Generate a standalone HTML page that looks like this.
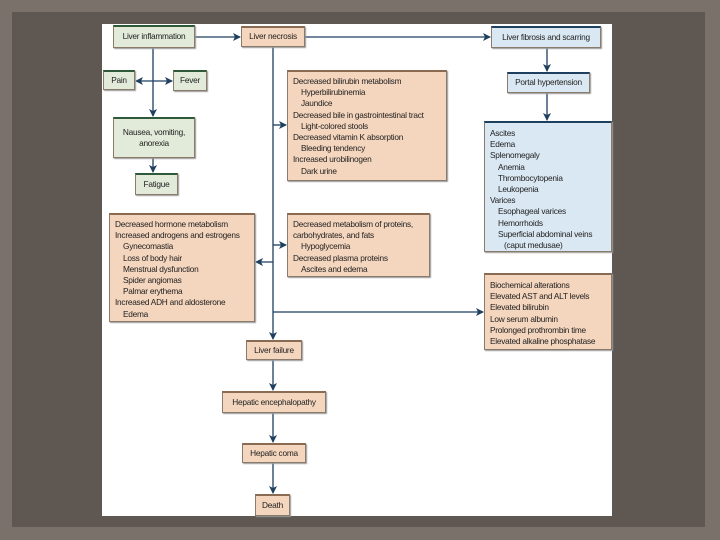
<!DOCTYPE html><html><head><style>
body{margin:0;width:720px;height:540px;background:#7b716b;position:relative;overflow:hidden;font-family:"Liberation Sans",sans-serif;}
#frame{position:absolute;left:12px;top:12px;width:693px;height:515px;background:#5f5752;}
#panel{position:absolute;left:102px;top:24px;width:510px;height:492px;background:#fff;}
.b{position:absolute;box-sizing:border-box;font-size:8.3px;line-height:11.2px;color:#222;border:1px solid #8a7a6a;box-shadow:1px 1px 1px #999;white-space:nowrap;letter-spacing:-0.25px;overflow:hidden;}
.p{background:#f4d5bd;border-top:2px solid #8a6a50;}
.g{background:#e2ebda;border-top:2px solid #2e5a3a;}
.u{background:#dae8f3;border-top:2px solid #1f3f5f;}
.c{display:flex;align-items:center;justify-content:center;text-align:center;}
.l{padding:4px 5px;}
.i{padding-left:8px}.ii{padding-left:14px}
</style></head><body>
<div id="frame"></div><div id="panel"></div>
<svg width="720" height="540" style="position:absolute;left:0;top:0">
<defs><marker id="a" markerWidth="8" markerHeight="8" refX="7" refY="4" orient="auto" markerUnits="userSpaceOnUse"><path d="M0,0 L8,4 L0,8 L2,4z" fill="#1f3f5f"/></marker></defs>
<g stroke="#1f3f5f" stroke-width="1.3" fill="none">
<line x1="195" y1="37" x2="240" y2="37" marker-end="url(#a)"/>
<line x1="305" y1="37" x2="490" y2="37" marker-end="url(#a)"/>
<line x1="153" y1="48" x2="153" y2="116" marker-end="url(#a)"/>
<line x1="153" y1="81" x2="136" y2="81" marker-end="url(#a)"/>
<line x1="153" y1="81" x2="172" y2="81" marker-end="url(#a)"/>
<line x1="153" y1="158" x2="153" y2="172" marker-end="url(#a)"/>
<line x1="547" y1="48" x2="547" y2="71" marker-end="url(#a)"/>
<line x1="547" y1="93" x2="547" y2="120" marker-end="url(#a)"/>
<line x1="273" y1="47" x2="273" y2="339" marker-end="url(#a)"/>
<line x1="273" y1="125" x2="286" y2="125" marker-end="url(#a)"/>
<line x1="273" y1="245" x2="286" y2="245" marker-end="url(#a)"/>
<line x1="273" y1="262" x2="256" y2="262" marker-end="url(#a)"/>
<line x1="273" y1="312" x2="483" y2="312" marker-end="url(#a)"/>
<line x1="273" y1="360" x2="273" y2="390" marker-end="url(#a)"/>
<line x1="273" y1="413" x2="273" y2="442" marker-end="url(#a)"/>
<line x1="273" y1="463" x2="273" y2="493" marker-end="url(#a)"/>
</g></svg>
<div class="b g c" style="left:113px;top:25px;width:82px;height:23px">Liver inflammation</div>
<div class="b p c" style="left:241px;top:26px;width:64px;height:21px">Liver necrosis</div>
<div class="b u c" style="left:491px;top:26px;width:110px;height:22px">Liver fibrosis and scarring</div>
<div class="b g c" style="left:103px;top:70px;width:32px;height:20px">Pain</div>
<div class="b g c" style="left:173px;top:70px;width:34px;height:21px">Fever</div>
<div class="b g c" style="left:113px;top:117px;width:82px;height:41px;white-space:normal">Nausea, vomiting,<br>anorexia</div>
<div class="b g c" style="left:135px;top:173px;width:43px;height:22px">Fatigue</div>
<div class="b p l" style="left:287px;top:70px;width:160px;height:111px">Decreased bilirubin metabolism<div class="i">Hyperbilirubinemia</div><div class="i">Jaundice</div>Decreased bile in gastrointestinal tract<div class="i">Light-colored stools</div>Decreased vitamin K absorption<div class="i">Bleeding tendency</div>Increased urobilinogen<div class="i">Dark urine</div></div>
<div class="b u c" style="left:507px;top:72px;width:83px;height:21px">Portal hypertension</div>
<div class="b u l" style="left:484px;top:121px;width:128px;height:131px;padding-top:5px">Ascites<br>Edema<br>Splenomegaly<div class="i">Anemia</div><div class="i">Thrombocytopenia</div><div class="i">Leukopenia</div>Varices<div class="i">Esophageal varices</div><div class="i">Hemorrhoids</div><div class="i">Superficial abdominal veins</div><div class="ii">(caput medusae)</div></div>
<div class="b p l" style="left:109px;top:213px;width:146px;height:109px">Decreased hormone metabolism<br>Increased androgens and estrogens<div class="i">Gynecomastia</div><div class="i">Loss of body hair</div><div class="i">Menstrual dysfunction</div><div class="i">Spider angiomas</div><div class="i">Palmar erythema</div>Increased ADH and aldosterone<div class="i">Edema</div></div>
<div class="b p l" style="left:287px;top:213px;width:143px;height:64px">Decreased metabolism of proteins,<br>carbohydrates, and fats<div class="i">Hypoglycemia</div>Decreased plasma proteins<div class="i">Ascites and edema</div></div>
<div class="b p l" style="left:484px;top:273px;width:128px;height:77px;padding-top:5px">Biochemical alterations<br>Elevated AST and ALT levels<br>Elevated bilirubin<br>Low serum albumin<br>Prolonged prothrombin time<br>Elevated alkaline phosphatase</div>
<div class="b p c" style="left:246px;top:340px;width:56px;height:20px">Liver failure</div>
<div class="b p c" style="left:222px;top:391px;width:104px;height:22px">Hepatic encephalopathy</div>
<div class="b p c" style="left:242px;top:443px;width:64px;height:20px">Hepatic coma</div>
<div class="b p c" style="left:255px;top:494px;width:35px;height:22px">Death</div>
</body></html>
